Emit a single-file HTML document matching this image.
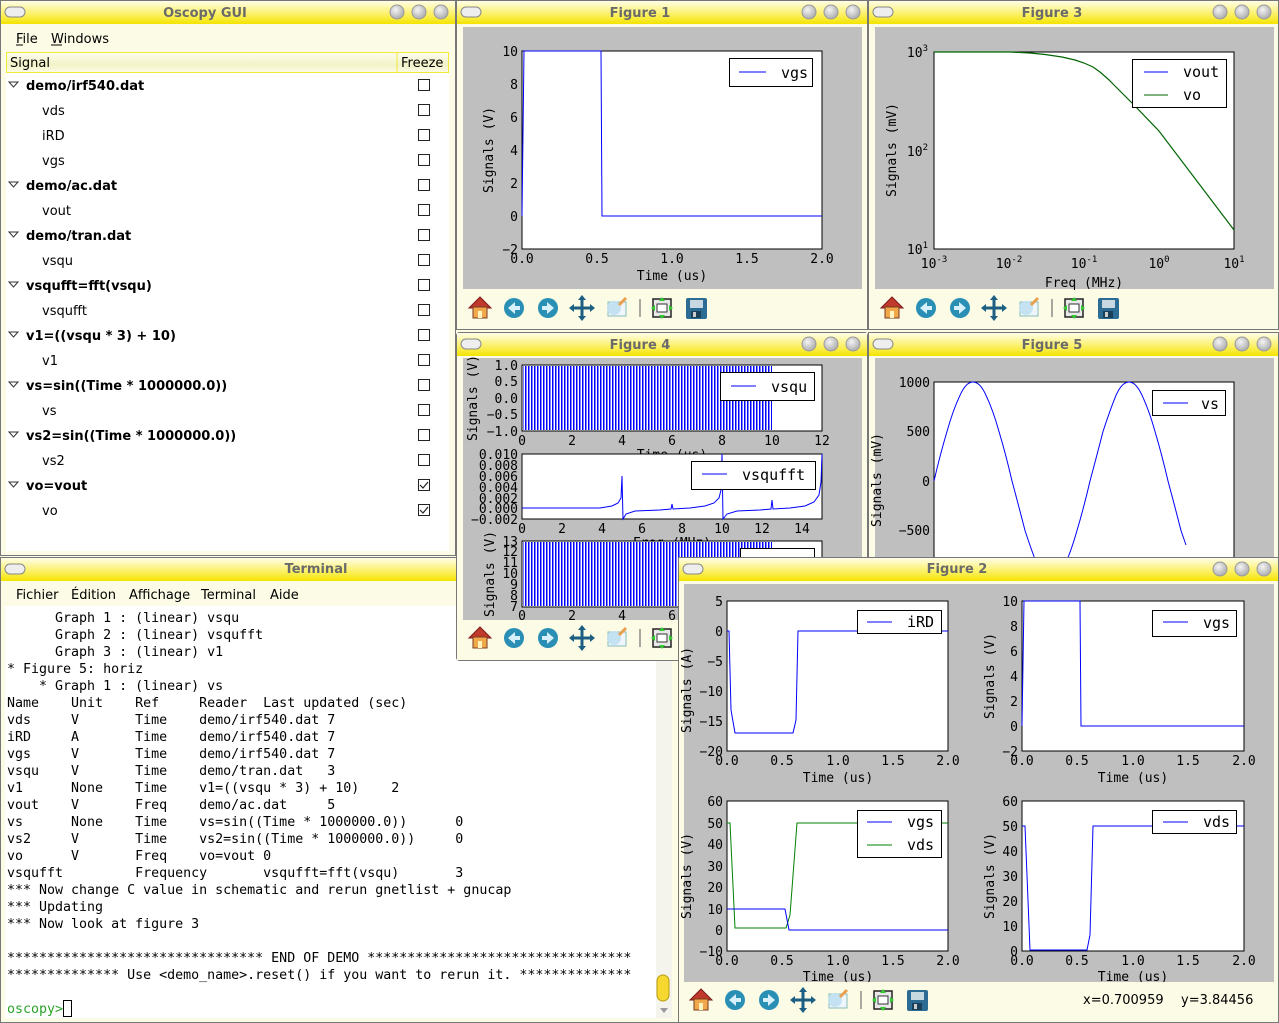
<!DOCTYPE html>
<html><head><meta charset="utf-8"><style>
html,body{margin:0;padding:0;background:#fbfbe6;}
svg{display:block}
.m{font-family:"DejaVu Sans Mono","Liberation Mono",monospace;font-size:13px;fill:#000}
.s{font-family:"DejaVu Sans","Liberation Sans",sans-serif;font-size:13px;fill:#000}
.t{font-family:"DejaVu Sans","Liberation Sans",sans-serif;font-size:13px;font-weight:bold;fill:#6a6a6a}
.b{font-family:"DejaVu Sans","Liberation Sans",sans-serif;font-size:13px;font-weight:bold;fill:#000}
.lg{font-family:"DejaVu Sans Mono","DejaVu Sans",sans-serif;font-size:15px;fill:#000}
.tm{font-family:"DejaVu Sans Mono","Liberation Mono",monospace;font-size:13.3px;fill:#000}
.r{text-anchor:end}.c{text-anchor:middle}
</style></head><body>
<svg width="1279" height="1023" viewBox="0 0 1279 1023" xmlns="http://www.w3.org/2000/svg">
<defs>
<linearGradient id="tg" x1="0" y1="0" x2="0" y2="1"><stop offset="0" stop-color="#fffde8"/><stop offset="0.6" stop-color="#fbf060"/><stop offset="1" stop-color="#f4e400"/></linearGradient>
<linearGradient id="hg" x1="0" y1="0" x2="0" y2="1"><stop offset="0" stop-color="#fdfdf0"/><stop offset="0.6" stop-color="#f3f3c8"/><stop offset="1" stop-color="#fbfbe6"/></linearGradient>
<radialGradient id="bg" cx="0.4" cy="0.35" r="0.7"><stop offset="0" stop-color="#f4f4f4"/><stop offset="1" stop-color="#a8a8a8"/></radialGradient>
<pattern id="st" width="3" height="10" patternUnits="userSpaceOnUse"><rect width="1.5" height="10" fill="#0000ff"/></pattern>
<g id="btns"><circle cx="0" cy="0" r="7" fill="url(#bg)" stroke="#999"/><circle cx="22" cy="0" r="7" fill="url(#bg)" stroke="#999"/><circle cx="44" cy="0" r="7" fill="url(#bg)" stroke="#999"/></g>
<rect id="pill" x="0" y="0" width="20" height="10" rx="5" fill="#eee" stroke="#888"/>
<g id="tb">
 <polygon points="-11,0 0,-11 11,0" fill="#c0392b" stroke="#7a1d1d"/>
 <rect x="-7" y="-1" width="14" height="11" fill="#f0a84a" stroke="#7a3b1d"/><rect x="-2" y="3" width="4" height="7" fill="#fff3c0"/>
 <circle cx="34" cy="0" r="10" fill="#2a8fb5"/><polygon points="28,0 35,-6 35,6" fill="#d8f0fa"/><rect x="34" y="-2" width="6" height="4" fill="#d8f0fa"/>
 <circle cx="68" cy="0" r="10" fill="#2a8fb5"/><polygon points="74,0 67,-6 67,6" fill="#d8f0fa"/><rect x="62" y="-2" width="6" height="4" fill="#d8f0fa"/>
 <path d="M91,0H113M102,-11V11" stroke="#1c5f82" stroke-width="3"/>
 <polygon points="89,0 94,-4 94,4" fill="#1c5f82"/><polygon points="115,0 110,-4 110,4" fill="#1c5f82"/><polygon points="102,-13 98,-8 106,-8" fill="#1c5f82"/><polygon points="102,13 98,8 106,8" fill="#1c5f82"/>
 <rect x="128" y="-6" width="18" height="14" fill="#eef6fb" stroke="#8bb"/><circle cx="134" cy="0" r="7" fill="#bfe0ef" opacity="0.9"/><line x1="139" y1="-3" x2="146" y2="-10" stroke="#e8a050" stroke-width="3"/>
 <line x1="160" y1="-9" x2="160" y2="9" stroke="#555"/>
 <rect x="173" y="-9" width="18" height="18" fill="#e8e8e8" stroke="#222" stroke-width="1.5"/><rect x="177" y="-4" width="10" height="8" fill="#fff" stroke="#333"/>
 <polygon points="182,-11 179,-7 185,-7" fill="#3c3"/><polygon points="182,11 179,7 185,7" fill="#3c3"/><polygon points="171,0 175,-3 175,3" fill="#3c3"/><polygon points="193,0 189,-3 189,3" fill="#3c3"/>
 <rect x="206" y="-10" width="21" height="21" rx="2" fill="#2c6b93"/><rect x="210" y="-8" width="13" height="8" fill="#c8d8e0"/><rect x="211" y="3" width="10" height="7" fill="#1a3f58"/><rect x="213" y="4" width="3" height="5" fill="#ccc"/>
</g>
</defs>

<!-- ============ OSCOPY GUI ============ -->
<rect x="0.5" y="0.5" width="455" height="555" fill="#fbfbe6" stroke="#777"/>
<rect x="1" y="1" width="454" height="23" fill="url(#tg)"/>
<use href="#pill" x="5" y="7"/><use href="#btns" x="397" y="12"/>
<text class="t c" x="205" y="17">Oscopy GUI</text>
<text class="s" x="16" y="43">File</text><line x1="16" y1="45" x2="23" y2="45" stroke="#000"/>
<text class="s" x="51" y="43">Windows</text><line x1="51" y1="45" x2="62" y2="45" stroke="#000"/>
<rect x="6" y="73" width="443" height="478" fill="#fff"/>
<rect x="6.5" y="52.5" width="442" height="20" fill="url(#hg)" stroke="#f2ea3a"/>
<line x1="397" y1="53" x2="397" y2="72" stroke="#f2ea3a"/>
<text class="s" x="10" y="67">Signal</text><text class="s" x="401" y="67">Freeze</text>
<g fill="none" stroke="#222">
<rect x="418.5" y="79.5" width="11" height="11"/><rect x="418.5" y="104.5" width="11" height="11"/><rect x="418.5" y="129.5" width="11" height="11"/><rect x="418.5" y="154.5" width="11" height="11"/><rect x="418.5" y="179.5" width="11" height="11"/><rect x="418.5" y="204.5" width="11" height="11"/><rect x="418.5" y="229.5" width="11" height="11"/><rect x="418.5" y="254.5" width="11" height="11"/><rect x="418.5" y="279.5" width="11" height="11"/><rect x="418.5" y="304.5" width="11" height="11"/><rect x="418.5" y="329.5" width="11" height="11"/><rect x="418.5" y="354.5" width="11" height="11"/><rect x="418.5" y="379.5" width="11" height="11"/><rect x="418.5" y="404.5" width="11" height="11"/><rect x="418.5" y="429.5" width="11" height="11"/><rect x="418.5" y="454.5" width="11" height="11"/><rect x="418.5" y="479.5" width="11" height="11"/><rect x="418.5" y="504.5" width="11" height="11"/>
<path d="M420,485l3,3l5,-6M420,510l3,3l5,-6" stroke-width="1.2"/>
</g>
<g fill="none" stroke="#333"><path d="M9,82h9l-4.5,5z M9,182h9l-4.5,5z M9,232h9l-4.5,5z M9,282h9l-4.5,5z M9,332h9l-4.5,5z M9,382h9l-4.5,5z M9,432h9l-4.5,5z M9,482h9l-4.5,5z"/></g>
<text class="b" x="26" y="90">demo/irf540.dat</text>
<text class="s" x="42" y="115">vds</text><text class="s" x="42" y="140">iRD</text><text class="s" x="42" y="165">vgs</text>
<text class="b" x="26" y="190">demo/ac.dat</text><text class="s" x="42" y="215">vout</text>
<text class="b" x="26" y="240">demo/tran.dat</text><text class="s" x="42" y="265">vsqu</text>
<text class="b" x="26" y="290">vsqufft=fft(vsqu)</text><text class="s" x="42" y="315">vsqufft</text>
<text class="b" x="26" y="340">v1=((vsqu * 3) + 10)</text><text class="s" x="42" y="365">v1</text>
<text class="b" x="26" y="390">vs=sin((Time * 1000000.0))</text><text class="s" x="42" y="415">vs</text>
<text class="b" x="26" y="440">vs2=sin((Time * 1000000.0))</text><text class="s" x="42" y="465">vs2</text>
<text class="b" x="26" y="490">vo=vout</text><text class="s" x="42" y="515">vo</text>

<!-- ============ FIGURE 1 ============ -->
<rect x="456.5" y="0.5" width="411" height="329" fill="#fbfbe6" stroke="#777"/>
<rect x="457" y="1" width="410" height="23" fill="url(#tg)"/>
<use href="#pill" x="461" y="7"/><use href="#btns" x="809" y="12"/>
<text class="t c" x="640" y="17">Figure 1</text>
<rect x="463" y="27" width="399" height="262" fill="#bfbfbf"/>
<rect x="522" y="51" width="300" height="198" fill="#fff" stroke="#000"/>
<path d="M522,216 L524,51 L601,51 L602,216 L822,216" fill="none" stroke="#00f"/>
<g class="m r"><text x="518" y="56">10</text><text x="518" y="89">8</text><text x="518" y="122">6</text><text x="518" y="155">4</text><text x="518" y="188">2</text><text x="518" y="221">0</text><text x="518" y="254">−2</text></g>
<g class="m c"><text x="522" y="263">0.0</text><text x="597" y="263">0.5</text><text x="672" y="263">1.0</text><text x="747" y="263">1.5</text><text x="822" y="263">2.0</text><text x="672" y="280">Time (us)</text></g>
<text class="m c" transform="translate(493,150) rotate(-90)">Signals (V)</text>
<rect x="729.5" y="58.5" width="83" height="28" fill="#fff" stroke="#000"/><line x1="739" y1="72" x2="766" y2="72" stroke="#00f"/><text class="lg" x="781" y="78">vgs</text>
<use href="#tb" x="480" y="308"/>

<!-- ============ FIGURE 3 ============ -->
<rect x="868.5" y="0.5" width="410" height="329" fill="#fbfbe6" stroke="#777"/>
<rect x="869" y="1" width="409" height="23" fill="url(#tg)"/>
<use href="#pill" x="873" y="7"/><use href="#btns" x="1220" y="12"/>
<text class="t c" x="1052" y="17">Figure 3</text>
<rect x="875" y="27" width="399" height="262" fill="#bfbfbf"/>
<rect x="934" y="52" width="300" height="197" fill="#fff" stroke="#000"/>
<path d="M934,52 L1010,52 L1030,53 L1045,54.5 L1062,57 L1075,60 L1084,63 L1093,67 L1100,72 L1108,79 L1115,86 L1135,106 L1159,131 L1234,230" fill="none" stroke="#006400" stroke-width="1.2"/>
<g class="m r"><text x="928" y="57">10<tspan dy="-6" font-size="9">3</tspan></text><text x="928" y="156">10<tspan dy="-6" font-size="9">2</tspan></text><text x="928" y="254">10<tspan dy="-6" font-size="9">1</tspan></text></g>
<g class="m c"><text x="934" y="268">10<tspan dy="-6" font-size="9">-3</tspan></text><text x="1009" y="268">10<tspan dy="-6" font-size="9">-2</tspan></text><text x="1084" y="268">10<tspan dy="-6" font-size="9">-1</tspan></text><text x="1159" y="268">10<tspan dy="-6" font-size="9">0</tspan></text><text x="1234" y="268">10<tspan dy="-6" font-size="9">1</tspan></text><text x="1084" y="287">Freq (MHz)</text></g>
<text class="m c" transform="translate(896,150) rotate(-90)">Signals (mV)</text>
<rect x="1132.5" y="59.5" width="94" height="48" fill="#fff" stroke="#000"/><line x1="1144" y1="72" x2="1168" y2="72" stroke="#00f"/><text class="lg" x="1183" y="77">vout</text><line x1="1144" y1="95" x2="1168" y2="95" stroke="#006400"/><text class="lg" x="1183" y="100">vo</text>
<use href="#tb" x="892" y="308"/>

<!-- ============ FIGURE 5 ============ -->
<rect x="868.5" y="332.5" width="410" height="240" fill="#fbfbe6" stroke="#777"/>
<rect x="869" y="333" width="409" height="23" fill="url(#tg)"/>
<use href="#pill" x="873" y="339"/><use href="#btns" x="1220" y="344"/>
<text class="t c" x="1052" y="349">Figure 5</text>
<rect x="875" y="358" width="399" height="215" fill="#bfbfbf"/>
<rect x="934" y="382" width="300" height="200" fill="#fff" stroke="#000"/>
<path d="M934,481 Q940,455 947,431.5 Q953,410 960,395.3 Q966,382 973,382 Q980,382 986,395.3 Q993,410 999,431.5 Q1006,455 1012,481 Q1019,507 1025,530.5 Q1032,552 1038,566.7 Q1044,580 1051,580 Q1058,580 1064,566.7 Q1071,552 1077,530.5 Q1084,507 1090,481 Q1097,455 1103,431.5 Q1110,410 1116,395.3 Q1122,382 1129,382 Q1136,382 1142,395.3 Q1149,410 1155,431.5 Q1162,455 1168,481 Q1175,507 1181,530.5 L1186,545" fill="none" stroke="#00f"/>
<g class="m r"><text x="930" y="387">1000</text><text x="930" y="436">500</text><text x="930" y="486">0</text><text x="930" y="535">−500</text></g>
<text class="m c" transform="translate(881,480) rotate(-90)">Signals (mV)</text>
<rect x="1152.5" y="390.5" width="73" height="25" fill="#fff" stroke="#000"/><line x1="1163" y1="403" x2="1188" y2="403" stroke="#00f"/><text class="lg" x="1201" y="409">vs</text>

<!-- ============ TERMINAL ============ -->
<rect x="0.5" y="557.5" width="679" height="465" fill="#fbfbe6" stroke="#777"/>
<rect x="1" y="558" width="678" height="23" fill="url(#tg)"/>
<use href="#pill" x="5" y="564"/>
<text class="t c" x="316" y="573">Terminal</text>
<g class="s"><text x="16" y="599">Fichier</text><text x="71" y="599">Édition</text><text x="129" y="599">Affichage</text><text x="201" y="599">Terminal</text><text x="270" y="599">Aide</text></g>
<rect x="5" y="606" width="651" height="412" fill="#fff"/>
<rect x="656" y="606" width="16" height="412" fill="#f4f4ec"/>
<rect x="657" y="975" width="12" height="26" rx="6" fill="#f6d830" stroke="#b89a10"/>
<polygon points="660,1008 668,1008 664,1013" fill="#999"/>
<g class="tm">
<text x="7" y="622">&#160;&#160;&#160;&#160;&#160;&#160;Graph&#160;1&#160;:&#160;(linear)&#160;vsqu</text>
<text x="7" y="639">&#160;&#160;&#160;&#160;&#160;&#160;Graph&#160;2&#160;:&#160;(linear)&#160;vsqufft</text>
<text x="7" y="656">&#160;&#160;&#160;&#160;&#160;&#160;Graph&#160;3&#160;:&#160;(linear)&#160;v1</text>
<text x="7" y="673">*&#160;Figure&#160;5:&#160;horiz</text>
<text x="7" y="690">&#160;&#160;&#160;&#160;*&#160;Graph&#160;1&#160;:&#160;(linear)&#160;vs</text>
<text x="7" y="707">Name&#160;&#160;&#160;&#160;Unit&#160;&#160;&#160;&#160;Ref&#160;&#160;&#160;&#160;&#160;Reader&#160;&#160;Last&#160;updated&#160;(sec)</text>
<text x="7" y="724">vds&#160;&#160;&#160;&#160;&#160;V&#160;&#160;&#160;&#160;&#160;&#160;&#160;Time&#160;&#160;&#160;&#160;demo/irf540.dat&#160;7</text>
<text x="7" y="741">iRD&#160;&#160;&#160;&#160;&#160;A&#160;&#160;&#160;&#160;&#160;&#160;&#160;Time&#160;&#160;&#160;&#160;demo/irf540.dat&#160;7</text>
<text x="7" y="758">vgs&#160;&#160;&#160;&#160;&#160;V&#160;&#160;&#160;&#160;&#160;&#160;&#160;Time&#160;&#160;&#160;&#160;demo/irf540.dat&#160;7</text>
<text x="7" y="775">vsqu&#160;&#160;&#160;&#160;V&#160;&#160;&#160;&#160;&#160;&#160;&#160;Time&#160;&#160;&#160;&#160;demo/tran.dat&#160;&#160;&#160;3</text>
<text x="7" y="792">v1&#160;&#160;&#160;&#160;&#160;&#160;None&#160;&#160;&#160;&#160;Time&#160;&#160;&#160;&#160;v1=((vsqu&#160;*&#160;3)&#160;+&#160;10)&#160;&#160;&#160;&#160;2</text>
<text x="7" y="809">vout&#160;&#160;&#160;&#160;V&#160;&#160;&#160;&#160;&#160;&#160;&#160;Freq&#160;&#160;&#160;&#160;demo/ac.dat&#160;&#160;&#160;&#160;&#160;5</text>
<text x="7" y="826">vs&#160;&#160;&#160;&#160;&#160;&#160;None&#160;&#160;&#160;&#160;Time&#160;&#160;&#160;&#160;vs=sin((Time&#160;*&#160;1000000.0))&#160;&#160;&#160;&#160;&#160;&#160;0</text>
<text x="7" y="843">vs2&#160;&#160;&#160;&#160;&#160;V&#160;&#160;&#160;&#160;&#160;&#160;&#160;Time&#160;&#160;&#160;&#160;vs2=sin((Time&#160;*&#160;1000000.0))&#160;&#160;&#160;&#160;&#160;0</text>
<text x="7" y="860">vo&#160;&#160;&#160;&#160;&#160;&#160;V&#160;&#160;&#160;&#160;&#160;&#160;&#160;Freq&#160;&#160;&#160;&#160;vo=vout&#160;0</text>
<text x="7" y="877">vsqufft&#160;&#160;&#160;&#160;&#160;&#160;&#160;&#160;&#160;Frequency&#160;&#160;&#160;&#160;&#160;&#160;&#160;vsqufft=fft(vsqu)&#160;&#160;&#160;&#160;&#160;&#160;&#160;3</text>
<text x="7" y="894">***&#160;Now&#160;change&#160;C&#160;value&#160;in&#160;schematic&#160;and&#160;rerun&#160;gnetlist&#160;+&#160;gnucap</text>
<text x="7" y="911">***&#160;Updating</text>
<text x="7" y="928">***&#160;Now&#160;look&#160;at&#160;figure&#160;3</text>
<text x="7" y="962">********************************&#160;END&#160;OF&#160;DEMO&#160;*********************************</text>
<text x="7" y="979">**************&#160;Use&#160;&lt;demo_name&gt;.reset()&#160;if&#160;you&#160;want&#160;to&#160;rerun&#160;it.&#160;**************</text>
<text x="7" y="1013" style="fill:#2aa52a">oscopy&gt;</text>
</g>
<rect x="63.5" y="1000.5" width="8" height="16" fill="none" stroke="#000"/>

<!-- ============ FIGURE 4 ============ -->
<rect x="456.5" y="332.5" width="411" height="328" rx="3" fill="#fbfbe6" stroke="#777"/>
<rect x="457" y="333" width="410" height="23" fill="url(#tg)"/>
<use href="#pill" x="461" y="339"/><use href="#btns" x="809" y="344"/>
<text class="t c" x="640" y="349">Figure 4</text>
<rect x="463" y="358" width="399" height="262" fill="#bfbfbf"/>
<rect x="522" y="365" width="300" height="66" fill="#fff" stroke="#000"/>
<rect x="523" y="366" width="249" height="64" fill="url(#st)"/>
<g class="m r"><text x="518" y="370">1.0</text><text x="518" y="386">0.5</text><text x="518" y="403">0.0</text><text x="518" y="419">−0.5</text><text x="518" y="436">−1.0</text></g>
<g class="m c"><text x="522" y="445">0</text><text x="572" y="445">2</text><text x="622" y="445">4</text><text x="672" y="445">6</text><text x="722" y="445">8</text><text x="772" y="445">10</text><text x="822" y="445">12</text><text x="672" y="459">Time (us)</text></g>
<text class="m c" transform="translate(477,398) rotate(-90)">Signals (V)</text>
<rect x="720.5" y="372.5" width="94" height="28" fill="#fff" stroke="#000"/><line x1="731" y1="386" x2="756" y2="386" stroke="#00f"/><text class="lg" x="771" y="392">vsqu</text>
<rect x="522" y="454" width="300" height="65" fill="#fff" stroke="#000"/>
<path d="M522,508 L600,508 L612,506 L618,503 L621,498 L622,476 L623,519 L626,514 L635,511 L660,510 L671,509 L672,504 L673,509 L690,508 L705,506 L714,503 L719,498 L721,490 L722,454 L723,519 L727,514 L737,511 L760,510 L771,509 L772,500 L773,509 L790,508 L805,506 L814,502 L819,495 L821,482 L822,454" fill="none" stroke="#00f"/>
<g class="m r"><text x="518" y="459">0.010</text><text x="518" y="470">0.008</text><text x="518" y="481">0.006</text><text x="518" y="492">0.004</text><text x="518" y="503">0.002</text><text x="518" y="513">0.000</text><text x="518" y="524">−0.002</text></g>
<g class="m c"><text x="522" y="533">0</text><text x="562" y="533">2</text><text x="602" y="533">4</text><text x="642" y="533">6</text><text x="682" y="533">8</text><text x="722" y="533">10</text><text x="762" y="533">12</text><text x="802" y="533">14</text><text x="672" y="547">Freq (MHz)</text></g>
<rect x="691.5" y="461.5" width="124" height="28" fill="#fff" stroke="#000"/><line x1="702" y1="474" x2="727" y2="474" stroke="#00f"/><text class="lg" x="742" y="480">vsqufft</text>
<rect x="522" y="541" width="300" height="66" fill="#fff" stroke="#000"/>
<rect x="523" y="542" width="249" height="64" fill="url(#st)"/>
<g class="m r"><text x="518" y="546">13</text><text x="518" y="556">12</text><text x="518" y="567">11</text><text x="518" y="578">10</text><text x="518" y="589">9</text><text x="518" y="600">8</text><text x="518" y="611">7</text></g>
<g class="m c"><text x="522" y="620">0</text><text x="572" y="620">2</text><text x="622" y="620">4</text><text x="672" y="620">6</text></g>
<text class="m c" transform="translate(494,574) rotate(-90)">Signals (V)</text>
<rect x="740.5" y="548.5" width="74" height="26" fill="#fff" stroke="#000"/>
<rect x="457" y="620" width="410" height="40" fill="#fbfbe6"/>
<use href="#tb" x="480" y="638"/>

<!-- ============ FIGURE 2 ============ -->
<rect x="678.5" y="557.5" width="600" height="465" fill="#fbfbe6" stroke="#777"/>
<rect x="679" y="558" width="599" height="23" fill="url(#tg)"/>
<use href="#pill" x="683" y="564"/><use href="#btns" x="1220" y="569"/>
<text class="t c" x="957" y="573">Figure 2</text>
<rect x="684" y="584" width="590" height="398" fill="#bfbfbf"/>
<rect x="727" y="601" width="221" height="150" fill="#fff" stroke="#000"/>
<path d="M727,631 L729,631 L731,710 L735,733 L793,733 L796,720 L798,631 L948,631" fill="none" stroke="#00f"/>
<g class="m r"><text x="723" y="606">5</text><text x="723" y="636">0</text><text x="723" y="666">−5</text><text x="723" y="696">−10</text><text x="723" y="726">−15</text><text x="723" y="756">−20</text></g>
<g class="m c"><text x="727" y="765">0.0</text><text x="782" y="765">0.5</text><text x="838" y="765">1.0</text><text x="893" y="765">1.5</text><text x="948" y="765">2.0</text><text x="838" y="782">Time (us)</text></g>
<text class="m c" transform="translate(691,690) rotate(-90)">Signals (A)</text>
<rect x="857.5" y="610.5" width="84" height="23" fill="#fff" stroke="#000"/><line x1="867" y1="622" x2="892" y2="622" stroke="#00f"/><text class="lg" x="907" y="627">iRD</text>
<rect x="1022" y="601" width="222" height="150" fill="#fff" stroke="#000"/>
<path d="M1022,726 L1024,601 L1080,601 L1081,726 L1244,726" fill="none" stroke="#00f"/>
<g class="m r"><text x="1018" y="606">10</text><text x="1018" y="631">8</text><text x="1018" y="656">6</text><text x="1018" y="681">4</text><text x="1018" y="706">2</text><text x="1018" y="731">0</text><text x="1018" y="756">−2</text></g>
<g class="m c"><text x="1022" y="765">0.0</text><text x="1077" y="765">0.5</text><text x="1133" y="765">1.0</text><text x="1188" y="765">1.5</text><text x="1244" y="765">2.0</text><text x="1133" y="782">Time (us)</text></g>
<text class="m c" transform="translate(994,676) rotate(-90)">Signals (V)</text>
<rect x="1152.5" y="610.5" width="84" height="26" fill="#fff" stroke="#000"/><line x1="1163" y1="622" x2="1188" y2="622" stroke="#00f"/><text class="lg" x="1203" y="628">vgs</text>
<rect x="727" y="801" width="221" height="150" fill="#fff" stroke="#000"/>
<path d="M727,823 L730,823 L735,928 L786,928 L790,915 L797,823 L948,823" fill="none" stroke="#008000"/>
<path d="M727,909 L729,909 L785,909 L789,930 L948,930" fill="none" stroke="#00f"/>
<g class="m r"><text x="723" y="806">60</text><text x="723" y="828">50</text><text x="723" y="849">40</text><text x="723" y="871">30</text><text x="723" y="892">20</text><text x="723" y="914">10</text><text x="723" y="935">0</text><text x="723" y="956">−10</text></g>
<g class="m c"><text x="727" y="965">0.0</text><text x="782" y="965">0.5</text><text x="838" y="965">1.0</text><text x="893" y="965">1.5</text><text x="948" y="965">2.0</text><text x="838" y="981">Time (us)</text></g>
<text class="m c" transform="translate(691,876) rotate(-90)">Signals (V)</text>
<rect x="857.5" y="810.5" width="84" height="47" fill="#fff" stroke="#000"/><line x1="867" y1="822" x2="892" y2="822" stroke="#00f"/><text class="lg" x="907" y="827">vgs</text><line x1="867" y1="845" x2="892" y2="845" stroke="#008000"/><text class="lg" x="907" y="850">vds</text>
<rect x="1022" y="801" width="222" height="150" fill="#fff" stroke="#000"/>
<path d="M1022,826 L1025,826 L1030,950 L1087,950 L1090,935 L1093,826 L1244,826" fill="none" stroke="#00f"/>
<g class="m r"><text x="1018" y="806">60</text><text x="1018" y="831">50</text><text x="1018" y="856">40</text><text x="1018" y="881">30</text><text x="1018" y="906">20</text><text x="1018" y="931">10</text><text x="1018" y="956">0</text></g>
<g class="m c"><text x="1022" y="965">0.0</text><text x="1077" y="965">0.5</text><text x="1133" y="965">1.0</text><text x="1188" y="965">1.5</text><text x="1244" y="965">2.0</text><text x="1133" y="981">Time (us)</text></g>
<text class="m c" transform="translate(994,876) rotate(-90)">Signals (V)</text>
<rect x="1152.5" y="810.5" width="84" height="23" fill="#fff" stroke="#000"/><line x1="1163" y1="822" x2="1188" y2="822" stroke="#00f"/><text class="lg" x="1203" y="827">vds</text>
<rect x="679" y="982" width="599" height="40" fill="#fbfbe6"/>
<use href="#tb" x="701" y="1000"/>
<text class="s" x="1083" y="1004">x=0.700959</text><text class="s" x="1181" y="1004">y=3.84456</text>
</svg>
</body></html>
